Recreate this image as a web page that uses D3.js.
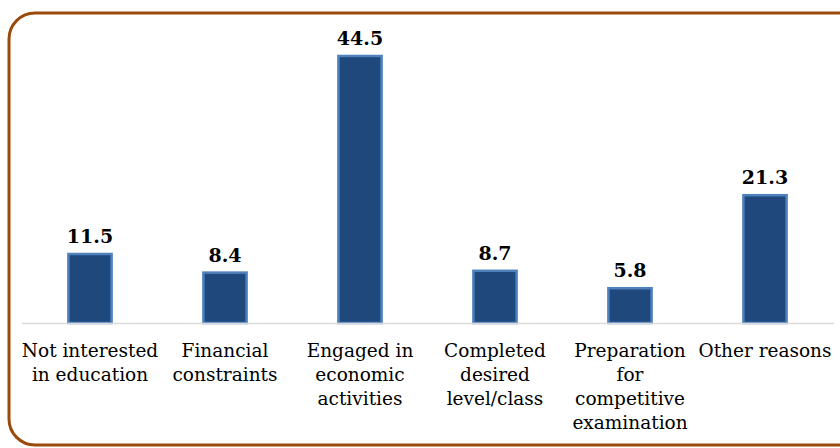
<!DOCTYPE html>
<html>
<head>
<meta charset="utf-8">
<script src="https://cdn.jsdelivr.net/npm/d3@7"></script>
<style>
  body { margin: 0; background: #fff; }
  svg { display: block; }
</style>
</head>
<body>
<script>
    var width = 840;
    var height = 448;

    // chart data
    var categories = ['Not interested in education', 'Financial constraints', 'Engaged in economic activities',
        'Completed desired level/class', 'Preparation for competitive examination', 'Other reasons'];
    var labelLines = [
        ['Not interested', 'in education'],
        ['Financial', 'constraints'],
        ['Engaged in', 'economic', 'activities'],
        ['Completed', 'desired', 'level/class'],
        ['Preparation', 'for', 'competitive', 'examination'],
        ['Other reasons']
    ];
    var values = [11.5, 8.4, 44.5, 8.7, 5.8, 21.3];

    var baseY = 323;

    var svg = d3.select('body').append('svg')
        .attr('width', width)
        .attr('height', height);

    // outer frame
    svg.append('rect')
        .attr('x', 9)
        .attr('y', 13)
        .attr('width', 860)
        .attr('height', 432)
        .attr('rx', 26)
        .attr('ry', 26)
        .style('fill', 'none')
        .style('stroke', '#9a4a0a')
        .style('stroke-width', 3);

    var x = d3.scaleBand()
        .domain(categories)
        .range([22.5, 832.5])
        .paddingInner(0.68)
        .paddingOuter(0.34);

    var y = d3.scaleLinear()
        .domain([0, 44.5])
        .range([baseY, 56]);

    var g = svg.append('g');

    g.selectAll('rect.bar')
        .data(values)
      .enter().append('rect')
        .attr('class', 'bar')
        .attr('x', function (d, i) { return x(categories[i]); })
        .attr('y', function (d) { return y(d); })
        .attr('width', x.bandwidth())
        .attr('height', function (d) { return baseY - y(d); })
        .style('fill', '#1f497d')
        .style('stroke', '#4f81bd')
        .style('stroke-width', 2.5);

    // axis baseline
    g.append('line')
        .attr('x1', 22)
        .attr('x2', 834)
        .attr('y1', baseY + 0.5)
        .attr('y2', baseY + 0.5)
        .style('stroke', '#d9d9d9')
        .style('stroke-width', 1.5);

    // value labels
    g.selectAll('text.val')
        .data(values)
      .enter().append('text')
        .attr('class', 'val')
        .attr('x', function (d, i) { return x(categories[i]) + x.bandwidth() / 2; })
        .attr('y', function (d) { return y(d) - 11; })
        .attr('text-anchor', 'middle')
        .style('font-family', '"DejaVu Serif", serif')
        .style('font-weight', 'bold')
        .style('font-size', '19px')
        .style('fill', '#000')
        .text(function (d) { return d.toFixed(1); });

    // category labels
    var cat = g.selectAll('text.cat')
        .data(labelLines)
      .enter().append('text')
        .attr('class', 'cat')
        .attr('x', function (d, i) { return x(categories[i]) + x.bandwidth() / 2; })
        .attr('y', 357)
        .attr('text-anchor', 'middle')
        .style('font-family', '"DejaVu Serif", serif')
        .style('font-size', '18.5px')
        .style('fill', '#000');

    cat.selectAll('tspan')
        .data(function (d) { return d; })
      .enter().append('tspan')
        .attr('x', function () { return d3.select(this.parentNode).attr('x'); })
        .attr('dy', function (d, i) { return i === 0 ? 0 : 24; })
        .text(function (d) { return d; });
</script>
</body>
</html>
